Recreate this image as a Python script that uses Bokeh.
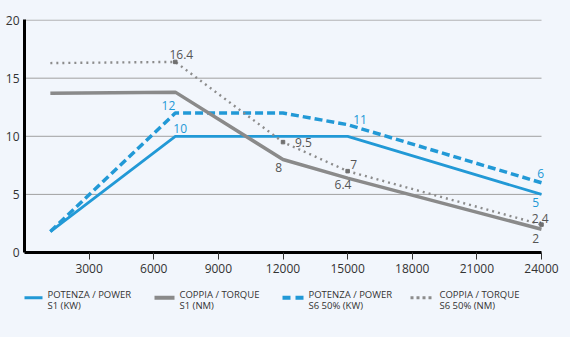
from bokeh.plotting import figure
from bokeh.models import Range1d, FixedTicker, ColumnDataSource, LabelSet
from bokeh.layouts import column
from bokeh.embed import file_html
from bokeh.resources import INLINE
from bokeh.core.properties import value

# ---------------- data ----------------
rpm = [1200, 7000, 12000, 15000, 24000]
power_s1 = [1.8, 10, 10, 10, 5]          # kW
torque_s1 = [13.7, 13.8, 8, 6.4, 2]      # Nm
power_s6 = [1.8, 12, 12, 11, 6]          # kW
torque_s6 = [16.3, 16.4, 9.5, 7, 2.4]    # Nm

x_ticks = [3000, 6000, 9000, 12000, 15000, 18000, 21000, 24000]
y_ticks = [0, 5, 10, 15, 20]

legend_line1 = ["POTENZA / POWER", "COPPIA / TORQUE", "POTENZA / POWER", "COPPIA / TORQUE"]
legend_line2 = ["S1 (KW)", "S1 (NM)", "S6 50% (KW)", "S6 50% (NM)"]

# value labels: (series, index)
ann_series = ["torque_s6", "torque_s6", "torque_s6", "torque_s6",
              "power_s6", "power_s6", "power_s6",
              "power_s1", "power_s1",
              "torque_s1", "torque_s1", "torque_s1"]
ann_index = [1, 2, 3, 4, 1, 3, 4, 1, 4, 2, 3, 4]

# ---------------- style ----------------
BG = "#f2f6fc"
BLUE = "#2299d6"
GRAY = "#8a8a8a"
TXT = "#333333"
FONT = "Open Sans"

ann_style = {  # (align, x_offset, y_offset downward) for each label in order
    0: ("center", 6, -2.5), 1: ("left", 12, 5), 2: ("left", 2.5, -2), 3: ("center", -1.2, -1.5),
    4: ("right", 0, -2.7), 5: ("left", 5.5, -0.5), 6: ("center", -0.7, -4.6),
    7: ("left", -2, -3), 8: ("center", -5.7, 12.8),
    9: ("right", -1, 12.7), 10: ("center", -4.6, 11), 11: ("center", -5.7, 13.8),
}

series = {"power_s1": power_s1, "torque_s1": torque_s1, "power_s6": power_s6, "torque_s6": torque_s6}
series_color = {"power_s1": BLUE, "power_s6": BLUE, "torque_s1": "#555555", "torque_s6": "#555555"}

LEFT, RIGHT = 24, 17
X_MAX = x_ticks[-1]
FRAME_W = 570 - LEFT - RIGHT     # frame extends a little past the last tick so end labels are not clipped
X_END = X_MAX * FRAME_W / 517.0

p = figure(width=570, height=280, x_range=Range1d(0, X_END), y_range=Range1d(0, 20.05),
           output_backend="svg", toolbar_location=None,
           min_border_left=LEFT, min_border_right=RIGHT, min_border_top=19, min_border_bottom=28)
p.background_fill_color = BG
p.border_fill_color = BG
p.outline_line_color = None

p.xgrid.grid_line_color = None
p.ygrid.grid_line_color = None
# horizontal gridlines ending at the last x tick
p.segment(x0=[0] * (len(y_ticks) - 1), x1=[X_MAX] * (len(y_ticks) - 1),
          y0=y_ticks[1:], y1=y_ticks[1:], line_color="#a0a0a0", line_width=1)

p.xaxis.ticker = FixedTicker(ticks=x_ticks)
p.yaxis.ticker = FixedTicker(ticks=y_ticks)
p.xaxis.bounds = (0, X_MAX)
for ax in (p.xaxis[0], p.yaxis[0]):
    ax.axis_line_color = "black"
    ax.axis_line_width = 3
    ax.minor_tick_line_color = None
    ax.major_label_text_font = FONT
    ax.major_label_text_font_size = "12px"
    ax.major_label_text_color = TXT
p.xaxis.major_tick_in = 0
p.xaxis.major_tick_out = 7
p.xaxis.major_tick_line_color = "#333333"
p.xaxis.major_label_standoff = 4
p.yaxis.major_tick_line_color = None
p.yaxis.major_tick_in = 0
p.yaxis.major_tick_out = 0
p.yaxis.major_label_standoff = 5

p.line(rpm, power_s1, line_color=BLUE, line_width=2.8)
p.line(rpm, power_s6, line_color=BLUE, line_width=3.5, line_dash="8 4")
p.line(rpm, torque_s1, line_color=GRAY, line_width=3.5)
p.line(rpm, torque_s6, line_color="#8c8c8c", line_width=2.4, line_dash="2 4")
p.scatter(rpm[1:], torque_s6[1:], marker="square", size=3.5, color="#707070")

ax_, ay_, at_, al_, ox_, oy_, ac_ = [], [], [], [], [], [], []
for k, (s, i) in enumerate(zip(ann_series, ann_index)):
    v = series[s][i]
    ax_.append(rpm[i]); ay_.append(v)
    at_.append(("%g" % v))
    a, dx, dy = ann_style[k]
    al_.append(a); ox_.append(dx); oy_.append(-dy)  # LabelSet: up is positive
    ac_.append(series_color[s])
src = ColumnDataSource(dict(x=ax_, y=ay_, t=at_, a=al_, ox=ox_, oy=oy_, c=ac_))
labels = LabelSet(x="x", y="y", text="t", source=src, text_align="a", x_offset="ox", y_offset="oy",
                  text_color="c", text_baseline="alphabetic", text_font=value(FONT),
                  text_font_size="12px")
p.add_layout(labels)

# ---------------- legend ----------------
# the column aligns this frame with the chart frame, so map x to page pixels
lg = figure(width=570, height=57, x_range=Range1d(LEFT, 570 - RIGHT), y_range=Range1d(57, 0),
            output_backend="svg", toolbar_location=None, min_border=0,
            x_axis_location=None, y_axis_location=None)
lg.grid.visible = False
lg.outline_line_color = None
lg.background_fill_color = BG
lg.border_fill_color = BG

sample_x = [(22, 42), (154, 174), (282, 303), (410, 433)]
text_x = [47, 179, 308, 439]
sample_style = [
    dict(line_color=BLUE, line_width=3),
    dict(line_color=GRAY, line_width=4),
    dict(line_color=BLUE, line_width=4, line_dash="8 5"),
    dict(line_color="#8c8c8c", line_width=3, line_dash="3 3"),
]
for (x0, x1), st in zip(sample_x, sample_style):
    lg.line([x0, x1], [17.3, 17.3], **st)
lg.text(x=text_x, y=[13.6] * 4, text=legend_line1, text_baseline="middle",
        text_font=value(FONT), text_font_size="9.5px", text_color=TXT)
lg.text(x=text_x, y=[24.6] * 4, text=legend_line2, text_baseline="middle",
        text_font=value(FONT), text_font_size="9.5px", text_color=TXT)

layout = column(p, lg, spacing=0)
layout.styles = {"background-color": BG}
open("out.html", "w").write(file_html(layout, INLINE))
